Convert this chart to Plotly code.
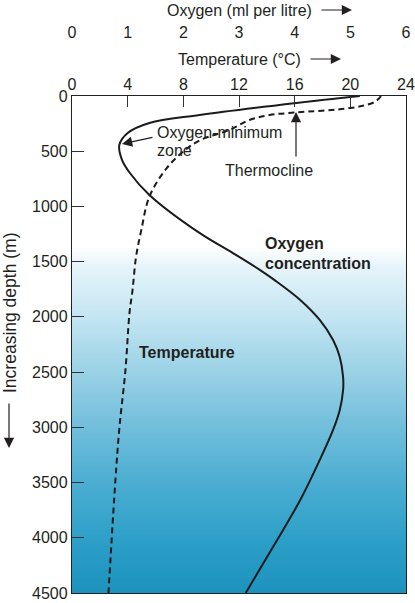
import plotly.graph_objects as go

# ---- data ----
oxy_depth = [0, 63, 172, 244, 335, 444, 580, 697, 896, 1240, 1422, 1576, 1667, 1847, 2028, 2209, 2363, 2544, 2662, 2843, 3024, 3296, 3658, 4084, 4500]
oxy_value = [5.17, 4.03, 2.29, 1.39, 1.0, 0.85, 0.9, 1.04, 1.39, 2.29, 2.89, 3.38, 3.64, 4.10, 4.45, 4.69, 4.81, 4.87, 4.87, 4.81, 4.69, 4.45, 4.10, 3.61, 3.12]

temp_depth = [0, 30, 63, 109, 150, 172, 217, 308, 400, 507, 670, 915, 1214, 1458, 1757, 1966, 2482, 2998, 3478, 4500]
temp_value = [22.2, 22.0, 21.6, 20.0, 16.0, 14.2, 12.75, 11.3, 9.2, 7.95, 6.7, 5.55, 4.98, 4.6, 4.35, 4.13, 3.84, 3.41, 3.12, 2.62]

depth_ticks = [0, 500, 1000, 1500, 2000, 2500, 3000, 3500, 4000, 4500]
temp_ticks = [0, 4, 8, 12, 16, 20, 24]
oxy_ticks = [0, 1, 2, 3, 4, 5, 6]

# background shading (sea water darkening with depth)
shade_depth = list(range(0, 4501, 25))
shade_scale = [[0.0, '#ffffff'], [0.30, '#ffffff'], [0.34, '#e6f4fa'], [0.45, '#c0e4f1'],
               [0.56, '#97d0e5'], [0.67, '#6fbddb'], [0.78, '#4aadd1'], [0.89, '#2d9fc8'], [1.0, '#1b92bd']]

TXT = '#231f20'
LINE = '#1b1b1b'
FONT = 'Liberation Sans, Arial, sans-serif'

fig = go.Figure()

fig.add_trace(go.Heatmap(
    x=[0, 24], y=shade_depth + [4525], z=[[d] for d in shade_depth],
    colorscale=shade_scale, zmin=0, zmax=4500, showscale=False,
    hoverinfo='skip', xaxis='x', yaxis='y'))

fig.add_trace(go.Scatter(
    x=temp_value, y=temp_depth, mode='lines', line=dict(color=LINE, width=2, dash='6px,4px', shape='spline'),
    xaxis='x', yaxis='y', name='Temperature', showlegend=False))

fig.add_trace(go.Scatter(
    x=oxy_value, y=oxy_depth, mode='lines', line=dict(color=LINE, width=2, shape='spline'),
    xaxis='x2', yaxis='y', name='Oxygen', showlegend=False))

H = 593.0  # paper height in px


def py(p):
    return (H - p) / H


W0, W1 = 72.0, 406.0


def px_paper(p):
    return (p - W0) / (W1 - W0)


def px_temp(p):
    return (p - W0) / (W1 - W0) * 24


def px_oxy(p):
    return (p - W0) / (W1 - W0) * 6


def pd(p):
    return (p - 96) / (497 / 4500)


ARW = dict(arrowhead=2, arrowsize=1.7, arrowwidth=1.2, arrowcolor=TXT)

annotations = [
    dict(text='Oxygen (ml per litre)', x=3, xref='x2', y=py(10), yref='paper', showarrow=False,
         xanchor='center', yanchor='middle', font=dict(size=16, color=TXT)),
    dict(text='', x=px_oxy(352), xref='x2', y=py(10), yref='paper', showarrow=True, ax=-32, ay=0, **ARW),
    dict(text='Temperature (°C)', x=12, xref='x', y=py(59), yref='paper', showarrow=False,
         xanchor='center', yanchor='middle', font=dict(size=16, color=TXT)),
    dict(text='', x=px_temp(341), xref='x', y=py(59), yref='paper', showarrow=True, ax=-32, ay=0, **ARW),
    dict(text='Increasing depth (m)', x=px_paper(10), xref='paper', y=py(313), yref='paper',
         textangle=-90, showarrow=False, xanchor='center', yanchor='middle', font=dict(size=17.5, color=TXT)),
    dict(text='', x=px_paper(9), xref='paper', y=py(448), yref='paper', showarrow=True, ax=0, ay=-46, **ARW),
    dict(text='Oxygen-minimum', x=px_temp(155), xref='x', y=pd(132), yref='y', showarrow=False,
         xanchor='left', yanchor='middle', font=dict(size=16, color=TXT)),
    dict(text='zone', x=px_temp(155), xref='x', y=pd(150), yref='y', showarrow=False,
         xanchor='left', yanchor='middle', font=dict(size=16, color=TXT)),
    dict(text='', x=px_temp(122), xref='x', y=pd(144), yref='y', showarrow=True, ax=32, ay=-7, **ARW),
    dict(text='Thermocline', x=px_temp(269), xref='x', y=pd(170), yref='y', showarrow=False,
         xanchor='center', yanchor='middle', font=dict(size=16, color=TXT)),
    dict(text='', x=px_temp(296), xref='x', y=pd(112), yref='y', showarrow=True, ax=0, ay=46, **ARW),
    dict(text='<b>Oxygen</b>', x=px_temp(263), xref='x', y=pd(243), yref='y', showarrow=False,
         xanchor='left', yanchor='middle', font=dict(size=16, color=TXT)),
    dict(text='<b>concentration</b>', x=px_temp(263), xref='x', y=pd(263), yref='y', showarrow=False,
         xanchor='left', yanchor='middle', font=dict(size=16, color=TXT)),
    dict(text='<b>Temperature</b>', x=px_temp(137), xref='x', y=pd(352), yref='y', showarrow=False,
         xanchor='left', yanchor='middle', font=dict(size=16, color=TXT)),
]

fig.update_layout(
    width=415, height=603,
    margin=dict(l=72, r=9, t=0, b=10, autoexpand=False),
    paper_bgcolor='white', plot_bgcolor='white',
    font=dict(family=FONT, size=16, color=TXT),
    showlegend=False,
    xaxis=dict(side='top', anchor='y', range=[0, 24], tickmode='array', tickvals=temp_ticks,
               ticks='inside', ticklen=11, tickwidth=1.2, tickcolor='#333', ticklabelstandoff=-2,
               showline=True, mirror=True, linecolor='#222', linewidth=1.3, automargin=False,
               showgrid=False, zeroline=False, tickfont=dict(size=16, color=TXT)),
    xaxis2=dict(side='top', overlaying='x', anchor='free', position=py(41), range=[0, 6],
                tickmode='array', tickvals=oxy_ticks, ticks='', showline=False, showgrid=False,
                automargin=False, zeroline=False, tickfont=dict(size=16, color=TXT)),
    yaxis=dict(domain=[0, py(96)], range=[4500, 0], tickmode='array', tickvals=depth_ticks,
               ticks='inside', ticklen=12, tickwidth=1.2, tickcolor='#333', automargin=False,
               showline=True, mirror=True, linecolor='#222', linewidth=1.3,
               showgrid=False, zeroline=False, tickfont=dict(size=16, color=TXT)),
    annotations=annotations,
)

fig.write_html('out.html', config={'displayModeBar': False},
               post_script="document.body.style.margin='0';document.body.style.overflow='hidden';")
